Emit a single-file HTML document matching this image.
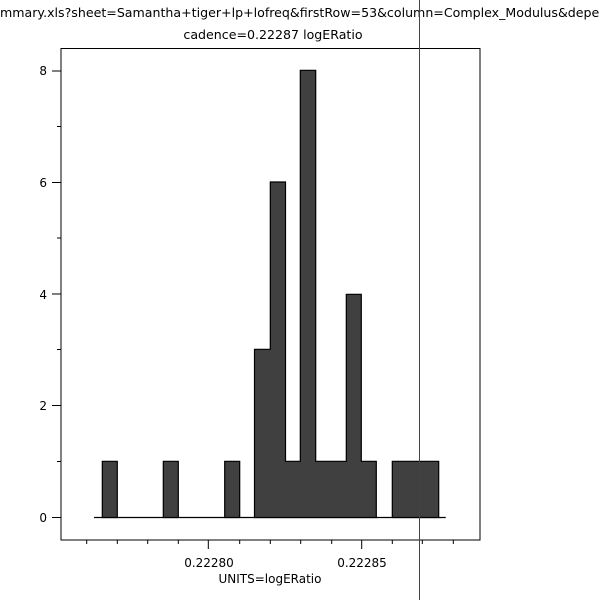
<!DOCTYPE html>
<html><head><meta charset="utf-8"><style>body{margin:0;background:#fff}svg{display:block}</style></head>
<body>
<svg width="600" height="600" xmlns="http://www.w3.org/2000/svg" font-family="'DejaVu Sans','Liberation Sans',sans-serif" font-size="12" fill="#000">
<rect width="600" height="600" fill="#fff"/>
<text x="0" y="17" font-size="12.6">mmary.xls?sheet=Samantha+tiger+lp+lofreq&amp;firstRow=53&amp;column=Complex_Modulus&amp;dependent</text>
<text x="273" y="39" text-anchor="middle" font-size="12.6">cadence=0.22287 logERatio</text>
<rect x="61" y="48.5" width="419" height="491.5" fill="none" stroke="#000" stroke-width="1"/>
<path d="M94 517.5H445.7" stroke="#000" stroke-width="1.2"/>
<path fill="#404040" stroke="#000" stroke-width="1.2" d="M102.3 517.5V461.3H117.3V517.5Z M163.3 517.5V461.3H178.3V517.5Z M224.7 517.5V461.3H239.7V517.5Z M254.5 517.5V349.3H270.3V182H285.5V461.3H300.3V70.3H315.7V461.3H346.3V294.3H361.3V461.3H376.3V517.5Z M392.3 517.5V461.3H438.7V517.5Z"/>
<g stroke="#000" stroke-width="1">
<path d="M52 517.5H61M52 405.5H61M52 294H61M52 182.5H61M52 71H61"/>
<path d="M57 461.5H61M57 349.5H61M57 238H61M57 126.5H61"/>
<path d="M86.7 540V544M117.3 540V544M147.7 540V544M178.3 540V544M239.7 540V544M270.3 540V544M300.7 540V544M331.7 540V544M392.3 540V544M422.3 540V544M453.3 540V544"/>
<path d="M208.3 540V549M361.7 540V549"/>
</g>
<g text-anchor="end"><text x="47" y="522">0</text><text x="47" y="410">2</text><text x="47" y="299">4</text><text x="47" y="187">6</text><text x="47" y="75">8</text></g>
<text x="209" y="567" text-anchor="middle">0.22280</text>
<text x="362" y="567" text-anchor="middle">0.22285</text>
<text x="270" y="583" text-anchor="middle">UNITS=logERatio</text>
<path d="M419.5 0V600" stroke="#444" stroke-width="1"/>
</svg>
</body></html>
